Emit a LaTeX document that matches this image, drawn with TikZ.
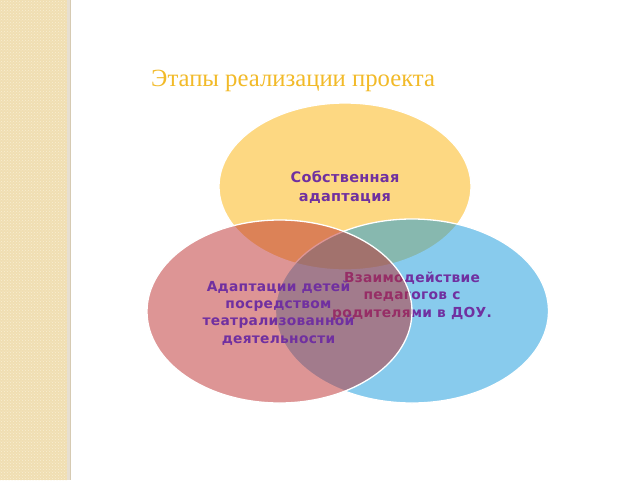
\documentclass[tikz,border=0pt]{standalone}
\usepackage{fontspec}
\setmainfont{Liberation Serif}
\newfontfamily\dvs{DejaVu Sans}[LetterSpace=2]
\usetikzlibrary{patterns}
\definecolor{stripbg}{RGB}{240,222,178}
\definecolor{stripdot}{RGB}{248,238,210}
\definecolor{stripedge}{RGB}{214,202,178}
\definecolor{titlecol}{RGB}{242,186,40}
\definecolor{txtcol}{RGB}{112,48,160}
\definecolor{ycol}{RGB}{253,216,130}
\definecolor{bcol}{RGB}{19,153,221}
\definecolor{rcol}{RGB}{189,45,45}
\tikzset{
  venn/.style={draw=white, line width=1.3pt},
  lbl/.style={text=txtcol, align=center, font=\dvs\bfseries\fontsize{13.8}{17.3}\selectfont, inner sep=0pt},
}
\begin{document}
\begin{tikzpicture}[x=1pt,y=-1pt]
\useasboundingbox (0,0) rectangle (640,480);
\fill[white] (0,0) rectangle (640,480);
% left decorative strip
\fill[stripbg] (0,0) rectangle (67,480);
\fill[pattern=crosshatch dots, pattern color=stripdot] (0,0) rectangle (67,480);
\fill[stripedge!60!white] (67,0) rectangle (69.5,480);
\fill[stripedge] (69.5,0) rectangle (71,480);
% title
\node[text=titlecol, font=\fontsize{24.7}{28}\selectfont, anchor=base west, inner sep=0pt] (title) at (151,86) {Этапы реализации проекта};
% yellow
\path[fill=ycol, venn] (345,186.5) ellipse [x radius=126, y radius=83.5];
\node[lbl, font=\dvs\bfseries\fontsize{14.5}{19}\selectfont] (ytext) at (345,187.5) {Собственная\\адаптация};
% blue
\path[fill=bcol, fill opacity=0.5, venn] (412,311) ellipse [x radius=136.5, y radius=92];
\node[lbl] (btext) at (412,296) {Взаимодействие\\педагогов с\\родителями в ДОУ.};
% red
\path[fill=rcol, fill opacity=0.5, venn] (279.5,311.5) ellipse [x radius=132.5, y radius=91.5];
\node[lbl] (rtext) at (278.5,313) {Адаптации детей\\посредством\\театрализованной\\деятельности};
\end{tikzpicture}
\end{document}
